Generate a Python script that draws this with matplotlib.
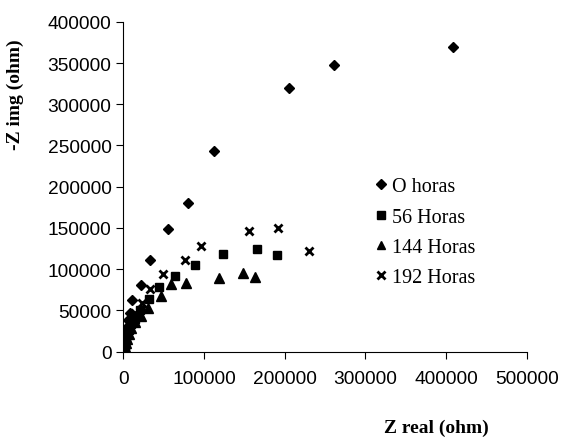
import matplotlib
matplotlib.use("Agg")
import matplotlib.pyplot as plt

series_labels = ["O horas", "56 Horas", "144 Horas", "192 Horas"]

x_0h = [409000, 261000, 205000, 113000, 80000, 55000, 33000, 22000, 11000, 8300,
        6000, 4500, 3300, 2400, 1700, 1200, 800, 500, 300]
y_0h = [369000, 348000, 320000, 243000, 180000, 149000, 111000, 80500, 62300, 47300,
        38000, 30000, 23000, 17000, 12000, 8000, 5000, 2500, 1000]

x_56h = [191000, 166000, 124000, 89000, 64000, 44600, 31500, 20700,
         14000, 10000, 7000, 5000, 3500, 2500, 1500, 900, 500]
y_56h = [117700, 124000, 118000, 105000, 92000, 77700, 63500, 50100,
         40000, 33000, 26000, 20000, 14000, 10000, 6000, 3000, 1200]

x_144h = [163000, 148000, 119000, 78000, 59000, 47000, 31000,
          22000, 15000, 10000, 7000, 5000, 3500, 2200, 1300, 700]
y_144h = [90500, 94800, 88600, 83500, 81500, 67000, 52500,
          43000, 36000, 28000, 21000, 15000, 10000, 6000, 3000, 1200]

x_192h = [230500, 191300, 155800, 96000, 76000, 48800, 33500, 23500,
          15000, 10000, 7000, 5000, 3500, 2400, 1500, 900, 500]
y_192h = [121400, 149300, 146400, 128200, 111000, 93500, 76000, 59000,
          47000, 37000, 29000, 22000, 16000, 11000, 7000, 3500, 1300]

x_ticks = [0, 100000, 200000, 300000, 400000, 500000]
y_ticks = [0, 50000, 100000, 150000, 200000, 250000, 300000, 350000, 400000]

fig = plt.figure(figsize=(5.62, 4.39), dpi=100)
ax = fig.add_axes([0.2194, 0.197, 0.9372 - 0.2194, 0.948 - 0.197])

ax.plot(x_0h, y_0h, linestyle="none", marker="D", ms=5.5, color="black", label=series_labels[0])
ax.plot(x_56h, y_56h, linestyle="none", marker="s", ms=6, color="black", label=series_labels[1])
ax.plot(x_144h, y_144h, linestyle="none", marker="^", ms=7, color="black", label=series_labels[2])
ax.plot(x_192h, y_192h, linestyle="none", marker="x", ms=6, mew=2, color="black", label=series_labels[3])

ax.set_xlim(0, 500000)
ax.set_ylim(0, 400000)
ax.set_xticks(x_ticks)
ax.set_yticks(y_ticks)
ax.set_xticklabels([str(v) for v in x_ticks], family="Liberation Sans", fontsize=13.8)
ax.set_yticklabels([str(v) for v in y_ticks], family="Liberation Sans", fontsize=13.8)
ax.tick_params(direction="out", length=5, width=0.8)
ax.tick_params(axis="x", pad=8.5)
ax.tick_params(axis="y", pad=3.5)
for s in ["top", "right"]:
    ax.spines[s].set_visible(False)
for s in ["left", "bottom"]:
    ax.spines[s].set_linewidth(0.8)

leg = ax.legend(loc="upper left", bbox_to_anchor=(0.5736, 0.584), frameon=False,
                prop={"family": "Liberation Serif", "size": 14.5},
                handletextpad=0.15, labelspacing=0.56, handlelength=0.8, markerscale=0.9)

fig.text(0.027, 0.784, "-Z img (ohm)", rotation=90, ha="center", va="center",
         family="Liberation Serif", fontweight="bold", fontsize=14)
fig.text(0.777, 0.013, "Z real (ohm)", ha="center", va="baseline",
         family="Liberation Serif", fontweight="bold", fontsize=14)

fig.savefig("out.png", dpi=100)
